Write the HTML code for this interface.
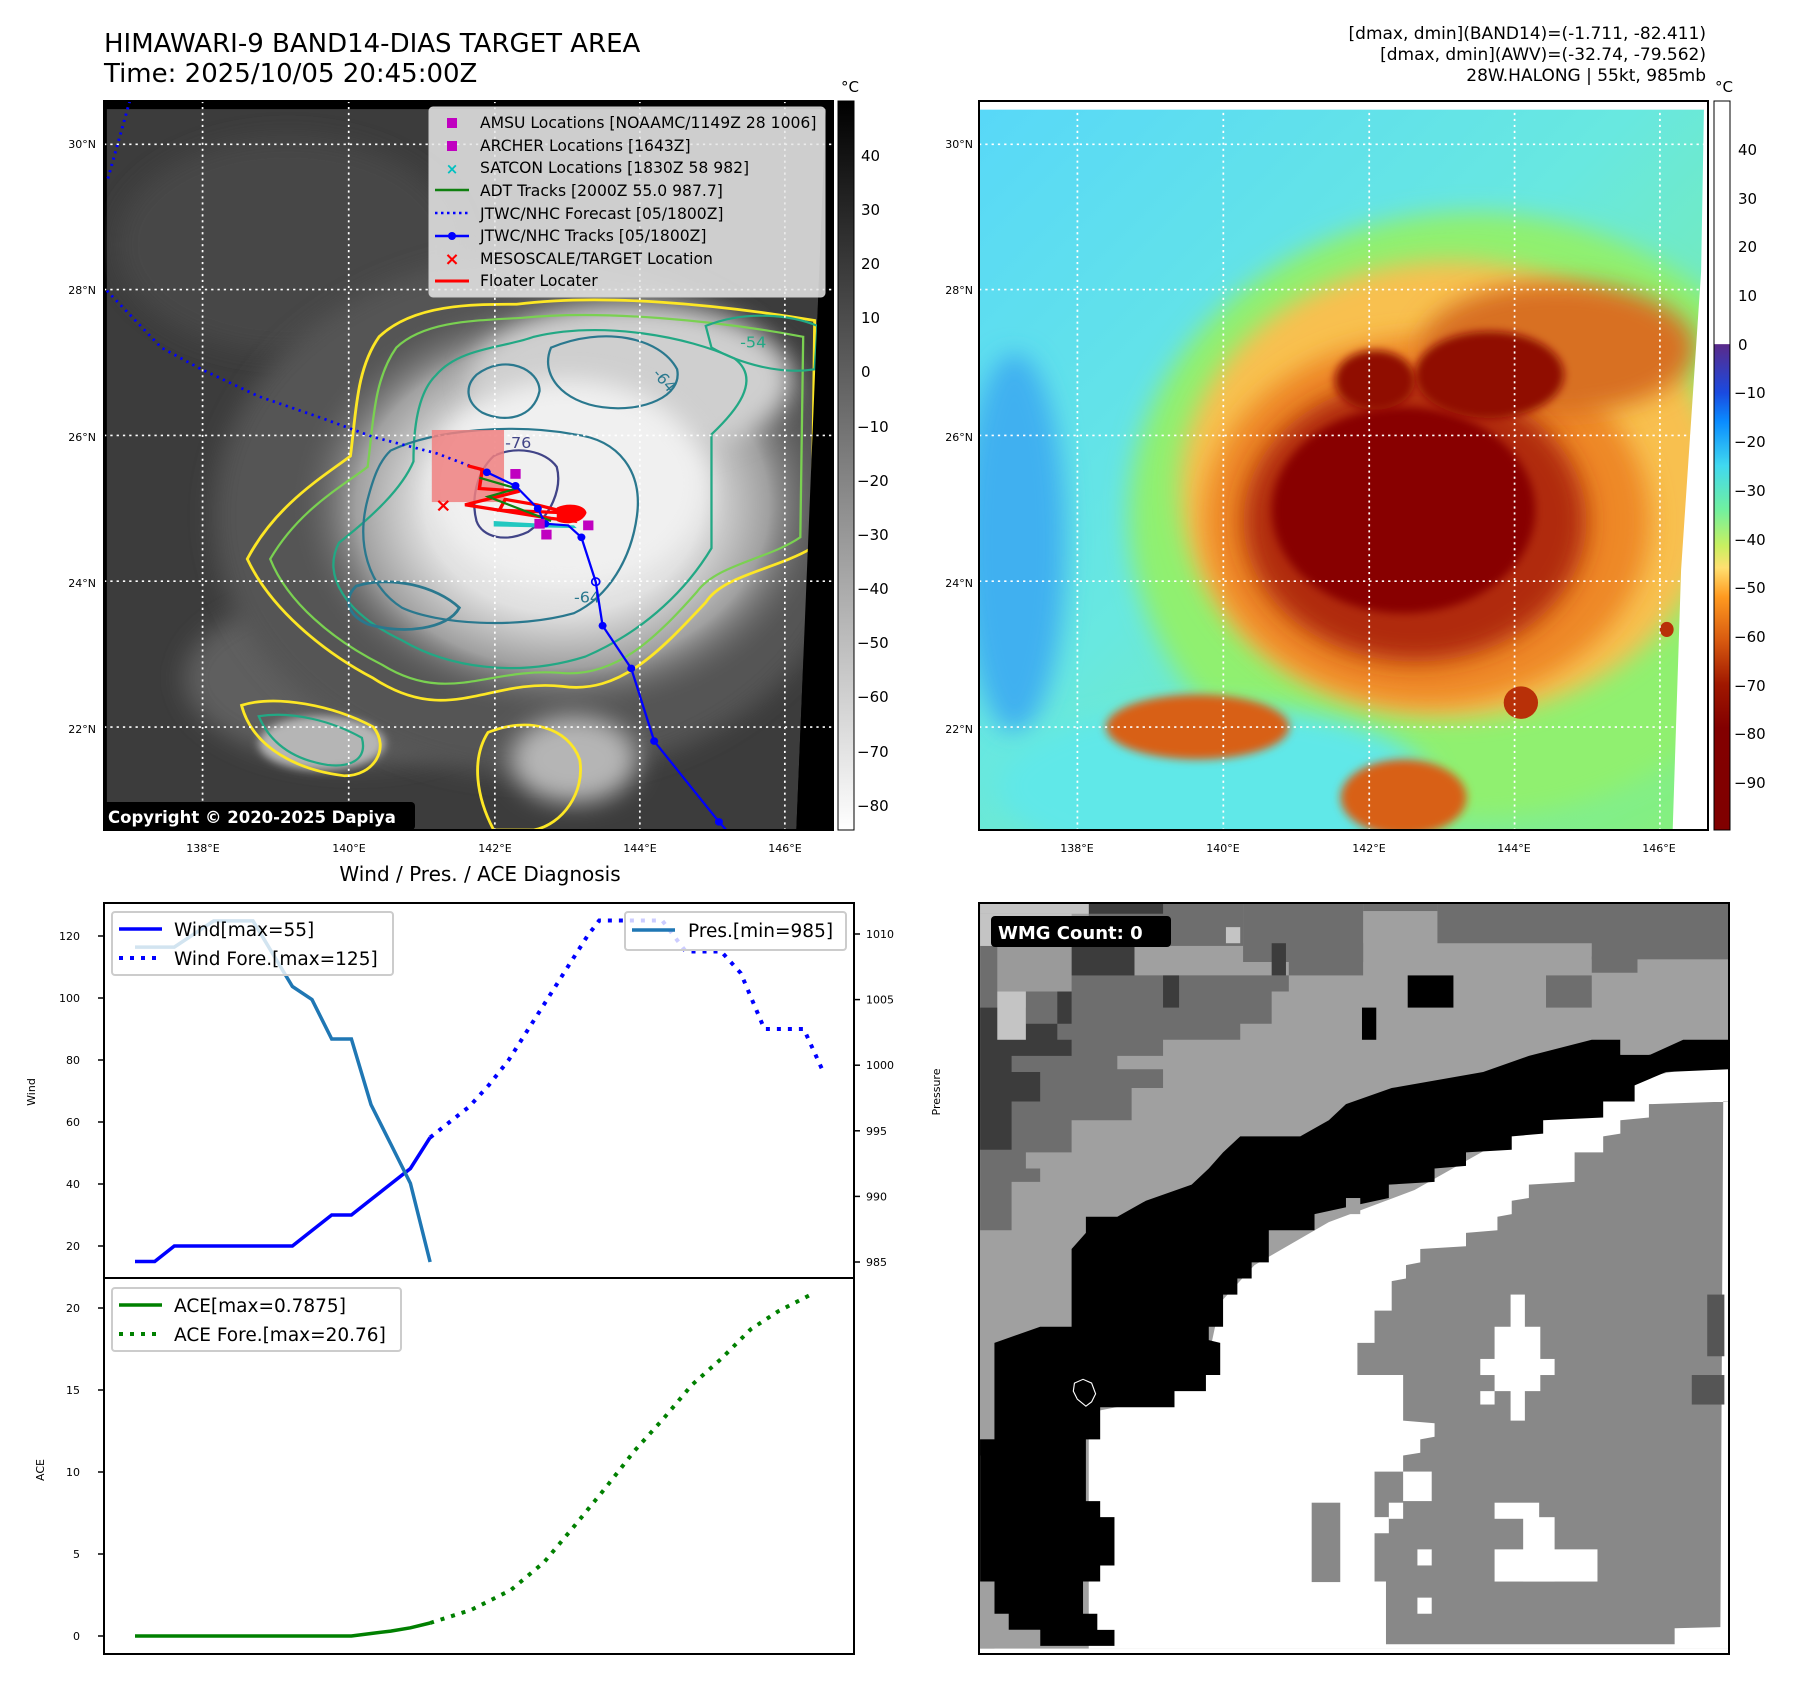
<!DOCTYPE html>
<html><head><meta charset="utf-8">
<style>
html,body{margin:0;padding:0;background:#fff;}
svg{display:block;font-family:"DejaVu Sans","Liberation Sans",sans-serif;}
</style></head>
<body>
<svg id="root" width="1797" height="1690" viewBox="0 0 1797 1690" xmlns="http://www.w3.org/2000/svg">
<defs>
  <filter id="blur8" x="-20%" y="-20%" width="140%" height="140%"><feGaussianBlur stdDeviation="8"/></filter>
  <filter id="blur20" x="-30%" y="-30%" width="160%" height="160%"><feGaussianBlur stdDeviation="22"/></filter>
  <radialGradient id="stormGray" cx="0.5" cy="0.5" r="0.5">
    <stop offset="0" stop-color="#f4f4f4"/><stop offset="0.5" stop-color="#e0e0e0"/>
    <stop offset="0.75" stop-color="#a0a0a0"/><stop offset="1" stop-color="#505050" stop-opacity="0"/>
  </radialGradient>
  <linearGradient id="cbGray" x1="0" y1="0" x2="0" y2="1">
    <stop offset="0" stop-color="#000"/><stop offset="1" stop-color="#fff"/>
  </linearGradient>
  <linearGradient id="cbColor" x1="0" y1="0" x2="0" y2="1">
    <stop offset="0" stop-color="#fff"/><stop offset="0.333" stop-color="#fff"/>
    <stop offset="0.334" stop-color="#5a2a8a"/><stop offset="0.40" stop-color="#1a4ae0"/>
    <stop offset="0.44" stop-color="#0a8cff"/><stop offset="0.50" stop-color="#40d8f0"/>
    <stop offset="0.56" stop-color="#70f0a0"/><stop offset="0.61" stop-color="#c8f060"/>
    <stop offset="0.64" stop-color="#ffe070"/><stop offset="0.68" stop-color="#ff9a20"/>
    <stop offset="0.74" stop-color="#d85a10"/><stop offset="0.80" stop-color="#a01800"/>
    <stop offset="0.86" stop-color="#820000"/><stop offset="1" stop-color="#800000"/>
  </linearGradient>
  <linearGradient id="awvBg" x1="0" y1="0" x2="1" y2="1">
    <stop offset="0" stop-color="#58d8f8"/><stop offset="0.45" stop-color="#68e8e0"/><stop offset="1" stop-color="#86f07a"/>
  </linearGradient>
</defs>

<!-- Titles -->
<text x="104" y="52" font-size="26" fill="#000">HIMAWARI-9 BAND14-DIAS TARGET AREA</text>
<text x="104" y="82" font-size="26" fill="#000">Time: 2025/10/05 20:45:00Z</text>
<g font-size="17" text-anchor="end" fill="#000">
  <text x="1706" y="39">[dmax, dmin](BAND14)=(-1.711, -82.411)</text>
  <text x="1706" y="60">[dmax, dmin](AWV)=(-32.74, -79.562)</text>
  <text x="1706" y="81">28W.HALONG | 55kt, 985mb</text>
</g>

<!-- ============ TOP LEFT MAP ============ -->
<g>
  <clipPath id="clipL"><rect x="104" y="101" width="729" height="729"/></clipPath>
  <rect x="104" y="101" width="729" height="729" fill="#000"/>
  <g clip-path="url(#clipL)">
    <g transform="translate(104,101) scale(0.5731,0.542) translate(-180,-185)">
      <polygon points="185,200 1440,200 1388,1530 185,1530" fill="#3c3c3c"/>
      <ellipse cx="500" cy="450" rx="300" ry="200" fill="#464646" filter="url(#blur20)"/>
      <ellipse cx="620" cy="1250" rx="300" ry="160" fill="#5e5e5e" filter="url(#blur20)"/>
      <ellipse cx="930" cy="950" rx="560" ry="480" fill="#555" filter="url(#blur20)"/>
      <ellipse cx="980" cy="930" rx="480" ry="400" fill="url(#stormGray)"/>
      <ellipse cx="1100" cy="700" rx="280" ry="140" fill="#cfcfcf" filter="url(#blur20)"/>
      <ellipse cx="990" cy="890" rx="240" ry="190" fill="#f0f0f0" filter="url(#blur20)"/>
      <ellipse cx="1000" cy="1400" rx="110" ry="80" fill="#b5b5b5" filter="url(#blur20)"/>
      <ellipse cx="560" cy="1370" rx="110" ry="50" fill="#b5b5b5" filter="url(#blur8)"/>
      <!-- contours -->
      <path d="M660,620 C720,560 820,560 900,560 C1050,540 1250,560 1420,590 L1415,1010 C1350,1050 1260,1060 1230,1110 C1150,1200 1080,1280 980,1265 C850,1250 780,1340 650,1250 C560,1200 470,1120 430,1030 C480,930 560,880 610,840 C620,760 620,680 660,620 Z" fill="none" stroke="#fde725" stroke-width="5"/>
      <path d="M690,640 C740,590 830,590 910,585 C1050,570 1250,590 1400,620 L1395,990 C1340,1030 1250,1040 1215,1090 C1140,1180 1070,1250 975,1240 C850,1230 780,1300 665,1225 C580,1180 500,1110 470,1030 C520,940 590,900 640,860 C650,780 650,700 690,640 Z" fill="none" stroke="#7ad151" stroke-width="4"/>
      <path d="M760,690 C800,640 880,640 930,620 C1050,590 1200,620 1280,660 C1330,700 1280,760 1240,800 L1240,1010 C1200,1080 1130,1160 1020,1210 C900,1250 780,1230 700,1180 C600,1130 560,1060 590,1000 C650,950 700,900 720,850 C720,780 730,720 760,690 Z" fill="none" stroke="#22a884" stroke-width="4"/>
      <path d="M830,690 C880,650 940,680 940,720 C930,770 880,780 840,760 C810,740 810,710 830,690 Z" fill="none" stroke="#2a788e" stroke-width="4"/>
      <path d="M960,640 C1050,600 1150,620 1180,680 C1190,730 1120,760 1050,750 C980,740 940,690 960,640 Z" fill="none" stroke="#2a788e" stroke-width="4"/>
      <path d="M680,830 C760,790 900,780 1000,800 C1080,810 1120,870 1110,950 C1100,1030 1060,1100 1000,1130 C900,1160 760,1150 700,1120 C640,1080 620,1000 640,920 C650,880 660,850 680,830 Z" fill="none" stroke="#2a788e" stroke-width="4"/>
      <path d="M620,1080 C680,1060 760,1080 800,1120 C780,1160 700,1170 640,1150 C600,1130 600,1100 620,1080 Z" fill="none" stroke="#2a788e" stroke-width="5"/>
      <path d="M860,840 C900,820 950,830 970,860 C980,900 960,950 920,980 C880,1000 840,990 830,960 C820,920 830,870 860,840 Z" fill="none" stroke="#414487" stroke-width="4"/>
      <path d="M420,1300 C480,1280 580,1300 650,1340 C680,1380 650,1430 600,1430 C520,1420 440,1380 420,1300 Z" fill="none" stroke="#fde725" stroke-width="5"/>
      <path d="M450,1320 C510,1310 580,1330 630,1360 C640,1400 610,1415 570,1410 C510,1400 470,1370 450,1320 Z" fill="none" stroke="#22a884" stroke-width="4"/>
      <path d="M850,1350 C920,1320 990,1340 1010,1400 C1020,1460 980,1520 930,1530 L860,1530 C830,1470 820,1400 850,1350 Z" fill="none" stroke="#fde725" stroke-width="5"/>
      <path d="M1230,600 C1300,570 1380,580 1425,600 L1420,680 C1360,690 1290,670 1240,640 Z" fill="none" stroke="#22a884" stroke-width="4"/>
      <text x="1140" y="700" font-size="28" fill="#2a788e" transform="rotate(50 1150 690)">-64</text>
      <text x="1000" y="1110" font-size="28" fill="#2a788e">-64</text>
      <text x="880" y="825" font-size="28" fill="#414487">-76</text>
      <text x="1290" y="640" font-size="28" fill="#22a884">-54</text>
      <polygon points="1440,190 1460,190 1460,1540 1388,1540 1388,1530" fill="#000"/>
      <g stroke="#fff" stroke-width="3" stroke-dasharray="4,7">
        <line x1="180" y1="265" x2="1452" y2="265"/><line x1="180" y1="533" x2="1452" y2="533"/>
        <line x1="180" y1="802" x2="1452" y2="802"/><line x1="180" y1="1071" x2="1452" y2="1071"/>
        <line x1="180" y1="1340" x2="1452" y2="1340"/>
        <line x1="352" y1="185" x2="352" y2="1530"/><line x1="607" y1="185" x2="607" y2="1530"/>
        <line x1="862" y1="185" x2="862" y2="1530"/><line x1="1115" y1="185" x2="1115" y2="1530"/>
        <line x1="1368" y1="185" x2="1368" y2="1530"/>
      </g>
      <rect x="752" y="792" width="126" height="133" fill="#f08080" opacity="0.85"/>
      <polyline points="225,185 205,260 185,335" fill="none" stroke="#00f" stroke-width="5" stroke-dasharray="4,8"/>
      <polyline points="185,535 280,640 350,680 450,730 560,770 650,805 760,835 848,870" fill="none" stroke="#00f" stroke-width="5" stroke-dasharray="4,8"/>
      <polyline points="815,858 840,865 835,900 905,905 810,930 960,955 1000,960 990,945 870,940 880,920 935,930 1010,950" fill="none" stroke="#f00" stroke-width="6"/>
      <polyline points="835,880 900,900 850,915 960,960" fill="none" stroke="#108010" stroke-width="4"/>
      <path d="M970,935 C990,925 1020,930 1022,945 C1015,965 985,968 970,960 Z" fill="#f00"/>
      <path d="M860,960 L1000,968 L1005,973 L860,970 Z" fill="#22c8c0"/>
      <polyline points="848,870 898,895 937,937 950,965 990,968 1013,990 1038,1072 1050,1153 1100,1232 1140,1366 1253,1515 1270,1535" fill="none" stroke="#00f" stroke-width="4"/>
      <g fill="#00f">
        <circle cx="848" cy="870" r="7"/><circle cx="898" cy="895" r="7"/><circle cx="937" cy="937" r="7"/>
        <circle cx="950" cy="965" r="7"/><circle cx="1013" cy="990" r="7"/><circle cx="1038" cy="1072" r="7" fill="none" stroke="#00f" stroke-width="3"/>
        <circle cx="1050" cy="1153" r="7"/><circle cx="1100" cy="1232" r="7"/><circle cx="1140" cy="1366" r="7"/><circle cx="1253" cy="1515" r="7"/>
      </g>
      <g fill="#c000c0">
        <rect x="889" y="864" width="18" height="18"/><rect x="1016" y="959" width="18" height="18"/>
        <rect x="943" y="976" width="18" height="18"/><rect x="931" y="956" width="18" height="18"/>
      </g>
      <text x="772" y="942" font-size="34" font-weight="bold" fill="#f00" text-anchor="middle">×</text>
    </g>
    <g>
      <rect x="429" y="107" width="396" height="190" rx="4" fill="#e8e8e8" fill-opacity="0.85" stroke="#ccc"/>
      <g font-size="15.6" fill="#000">
        <rect x="447" y="118" width="10" height="10" fill="#c000c0"/><text x="480" y="128">AMSU Locations [NOAAMC/1149Z 28 1006]</text>
        <rect x="447" y="141" width="10" height="10" fill="#c000c0"/><text x="480" y="151">ARCHER Locations [1643Z]</text>
        <text x="452" y="174" fill="#00c0c0" font-weight="bold" text-anchor="middle" font-size="15">×</text><text x="480" y="173">SATCON Locations [1830Z 58 982]</text>
        <line x1="435" y1="190" x2="469" y2="190" stroke="#108010" stroke-width="2.5"/><text x="480" y="196">ADT Tracks [2000Z 55.0 987.7]</text>
        <line x1="435" y1="213" x2="469" y2="213" stroke="#00f" stroke-width="2.5" stroke-dasharray="2.5,3.5"/><text x="480" y="219">JTWC/NHC Forecast [05/1800Z]</text>
        <line x1="435" y1="236" x2="469" y2="236" stroke="#00f" stroke-width="2.5"/><circle cx="452" cy="236" r="4" fill="#00f"/><text x="480" y="241">JTWC/NHC Tracks [05/1800Z]</text>
        <text x="452" y="265" fill="#f00" font-weight="bold" text-anchor="middle" font-size="18">×</text><text x="480" y="264">MESOSCALE/TARGET Location</text>
        <line x1="435" y1="281" x2="469" y2="281" stroke="#f00" stroke-width="3"/><text x="480" y="286">Floater Locater</text>
      </g>
    </g>
  </g>
  <rect x="104" y="101" width="729" height="729" fill="none" stroke="#000" stroke-width="2"/>
  <g>
    <rect x="103" y="802" width="312" height="28" rx="4" fill="#000"/>
    <text x="108" y="823" font-size="16.5" font-weight="bold" fill="#fff">Copyright © 2020-2025 Dapiya</text>
  </g>
  <g font-size="11" fill="#000" text-anchor="end">
    <text x="96" y="148">30°N</text><text x="96" y="294">28°N</text><text x="96" y="441">26°N</text><text x="96" y="587">24°N</text><text x="96" y="733">22°N</text>
  </g>
  <g font-size="11" fill="#000" text-anchor="middle">
    <text x="203" y="852">138°E</text><text x="349" y="852">140°E</text><text x="495" y="852">142°E</text><text x="640" y="852">144°E</text><text x="785" y="852">146°E</text>
  </g>
</g>

<g>
  <rect x="838" y="101" width="16" height="729" fill="url(#cbGray)" stroke="#000" stroke-width="1"/>
  <text x="850" y="92" font-size="15" text-anchor="middle">°C</text>
  <g font-size="15" fill="#000">
    <text x="861" y="161">40</text><text x="861" y="215">30</text><text x="861" y="269">20</text><text x="861" y="323">10</text>
    <text x="861" y="377">0</text><text x="857" y="432">−10</text><text x="857" y="486">−20</text><text x="857" y="540">−30</text>
    <text x="857" y="594">−40</text><text x="857" y="648">−50</text><text x="857" y="702">−60</text><text x="857" y="757">−70</text><text x="857" y="811">−80</text>
  </g>
</g>

<!-- ============ TOP RIGHT MAP ============ -->
<g>
  <clipPath id="clipR"><rect x="979" y="101" width="729" height="729"/></clipPath>
  <rect x="979" y="101" width="729" height="729" fill="#fff"/>
  <g clip-path="url(#clipR)">
    <g transform="translate(979,101) scale(0.5722,0.542) translate(-138,-185)">
      <rect x="138" y="200" width="1274" height="1330" fill="url(#awvBg)"/>
      <ellipse cx="200" cy="1000" rx="90" ry="350" fill="#40b0f0" filter="url(#blur20)"/>
      <ellipse cx="1000" cy="950" rx="600" ry="560" fill="#90f070" filter="url(#blur20)"/>
      <ellipse cx="550" cy="1450" rx="380" ry="150" fill="#60e8e8" filter="url(#blur20)"/>
      <ellipse cx="960" cy="900" rx="470" ry="420" fill="#f8c050" filter="url(#blur20)"/>
      <ellipse cx="920" cy="960" rx="390" ry="340" fill="#ee8828" filter="url(#blur20)"/>
      <ellipse cx="1150" cy="640" rx="240" ry="120" fill="#d87020" filter="url(#blur20)"/>
      <ellipse cx="520" cy="1340" rx="160" ry="60" fill="#d86018" filter="url(#blur8)"/>
      <ellipse cx="880" cy="1470" rx="110" ry="70" fill="#d86018" filter="url(#blur8)"/>
      <ellipse cx="900" cy="960" rx="300" ry="260" fill="#b02c08" filter="url(#blur20)"/>
      <ellipse cx="880" cy="940" rx="230" ry="190" fill="#880400" filter="url(#blur8)"/>
      <ellipse cx="1030" cy="690" rx="130" ry="80" fill="#900800" filter="url(#blur8)"/>
      <ellipse cx="830" cy="700" rx="70" ry="55" fill="#900800" filter="url(#blur8)"/>
      <ellipse cx="1085" cy="1295" rx="30" ry="30" fill="#b83008"/>
      <ellipse cx="1340" cy="1160" rx="12" ry="14" fill="#b83008"/>
      <polygon points="1405,195 1420,195 1420,1540 1350,1540 1365,1050 1400,500" fill="#fff"/>
      <rect x="130" y="185" width="1290" height="16" fill="#fff"/>
      <g stroke="#fff" stroke-width="3" stroke-dasharray="4,7">
        <line x1="138" y1="265" x2="1412" y2="265"/><line x1="138" y1="533" x2="1412" y2="533"/>
        <line x1="138" y1="802" x2="1412" y2="802"/><line x1="138" y1="1071" x2="1412" y2="1071"/>
        <line x1="138" y1="1340" x2="1412" y2="1340"/>
        <line x1="310" y1="185" x2="310" y2="1530"/><line x1="565" y1="185" x2="565" y2="1530"/>
        <line x1="820" y1="185" x2="820" y2="1530"/><line x1="1074" y1="185" x2="1074" y2="1530"/>
        <line x1="1328" y1="185" x2="1328" y2="1530"/>
      </g>
    </g>
  </g>
  <rect x="979" y="101" width="729" height="729" fill="none" stroke="#000" stroke-width="2"/>
  <g font-size="11" fill="#000" text-anchor="end">
    <text x="973" y="148">30°N</text><text x="973" y="294">28°N</text><text x="973" y="441">26°N</text><text x="973" y="587">24°N</text><text x="973" y="733">22°N</text>
  </g>
  <g font-size="11" fill="#000" text-anchor="middle">
    <text x="1077" y="852">138°E</text><text x="1223" y="852">140°E</text><text x="1369" y="852">142°E</text><text x="1514" y="852">144°E</text><text x="1659" y="852">146°E</text>
  </g>
</g>
<g>
  <rect x="1714" y="101" width="16" height="729" fill="url(#cbColor)" stroke="#000" stroke-width="1"/>
  <text x="1724" y="92" font-size="15" text-anchor="middle">°C</text>
  <g font-size="15" fill="#000">
    <text x="1738" y="155">40</text><text x="1738" y="204">30</text><text x="1738" y="252">20</text><text x="1738" y="301">10</text>
    <text x="1738" y="350">0</text><text x="1734" y="398">−10</text><text x="1734" y="447">−20</text><text x="1734" y="496">−30</text>
    <text x="1734" y="545">−40</text><text x="1734" y="593">−50</text><text x="1734" y="642">−60</text><text x="1734" y="691">−70</text>
    <text x="1734" y="739">−80</text><text x="1734" y="788">−90</text>
  </g>
</g>

<!-- ============ BOTTOM RIGHT WMG ============ -->
<g>
  <clipPath id="clipW"><rect x="979" y="903" width="750" height="751"/></clipPath>
  <rect x="979" y="903" width="750" height="751" fill="#fff"/>
  <g clip-path="url(#clipW)">
    <g transform="translate(979,903) scale(0.5716,0.5364) translate(-138,-100)">
      <rect x="138" y="100" width="1312" height="1390" fill="#a0a0a0"/>
      <g fill="#6e6e6e">
        <rect x="330" y="100" width="270" height="80"/><rect x="600" y="100" width="210" height="110"/>
        <rect x="680" y="175" width="130" height="60"/><rect x="810" y="100" width="130" height="15"/>
        <rect x="940" y="100" width="510" height="75"/><rect x="1210" y="170" width="240" height="35"/>
        <rect x="1210" y="200" width="80" height="30"/><rect x="1130" y="235" width="80" height="60"/>
        <polygon points="140,180 410,180 410,235 680,235 680,265 650,265 650,325 595,325 595,355 460,355 460,385 380,385 380,410 460,410 460,445 405,445 405,505 300,505 300,565 220,565 220,595 245,595 245,620 195,620 195,710 140,710"/>
      </g>
      <g fill="#3c3c3c">
        <rect x="330" y="100" width="130" height="20"/><rect x="300" y="180" width="110" height="55"/>
        <rect x="650" y="175" width="25" height="60"/><rect x="460" y="235" width="28" height="60"/>
        <polygon points="140,295 220,295 220,325 300,325 300,265 275,265 275,355 300,355 300,385 195,385 195,415 245,415 245,470 140,470"/>
        <rect x="140" y="470" width="55" height="90"/>
      </g>
      <g fill="#c4c4c4">
        <rect x="140" y="100" width="190" height="20"/><rect x="140" y="120" width="160" height="60"/>
        <rect x="170" y="265" width="50" height="90"/><rect x="570" y="145" width="25" height="30"/>
      </g>
      <g fill="#9a9a9a"><rect x="170" y="180" width="130" height="85"/></g>
      <polygon fill="#fff" points="1450,395 1300,425 1200,470 1100,515 1000,575 900,635 750,695 620,775 560,845 540,945 450,1025 330,1050 330,1490 1450,1490"/>
      <polygon fill="#888" points="1450,470 1310,475 1310,500 1260,505 1260,530 1230,535 1230,565 1180,565 1180,620 1100,625 1100,650 1070,655 1070,680 1045,685 1045,710 990,715 990,740 910,745 910,770 885,775 885,800 860,805 860,860 830,860 830,920 800,920 800,980 880,980 880,1065 935,1070 935,1095 910,1100 910,1125 880,1130 880,1160 830,1160 830,1245 855,1245 855,1275 830,1275 830,1365 850,1365 850,1482 1355,1482 1355,1452 1435,1450 1440,470"/>
      <g fill="#fff">
        <rect x="1068" y="830" width="25" height="235"/><rect x="1040" y="890" width="80" height="120"/>
        <rect x="1015" y="950" width="130" height="30"/><rect x="1015" y="1010" width="25" height="25"/>
        <rect x="1040" y="1218" width="78" height="30"/><rect x="1090" y="1245" width="55" height="120"/>
        <rect x="1040" y="1305" width="180" height="60"/><rect x="880" y="1160" width="50" height="55"/>
        <rect x="905" y="1305" width="25" height="30"/><rect x="905" y="1395" width="25" height="30"/>
        <rect x="855" y="1218" width="25" height="30"/>
      </g>
      <g fill="#888"><rect x="720" y="1218" width="50" height="148"/></g>
      <g fill="#555"><rect x="1412" y="830" width="30" height="115"/><rect x="1385" y="980" width="57" height="55"/></g>
      <polygon fill="#000" points="165,920 245,890 300,890 300,745 325,715 325,685 380,685 430,655 510,625 540,595 565,565 595,535 700,535 750,505 780,475 860,445 1020,415 1100,385 1210,355 1260,355 1260,383 1312,383 1370,355 1450,355 1450,410 1340,415 1285,440 1285,470 1230,470 1230,500 1125,505 1125,530 1070,535 1070,560 990,565 990,590 935,595 935,620 855,625 855,650 725,680 725,710 645,710 645,770 615,770 615,800 590,800 590,830 565,830 565,890 540,890 540,915 560,920 560,980 535,980 535,1010 480,1010 480,1040 350,1040 350,1100 325,1100 325,1215 350,1215 350,1245 375,1245 375,1335 350,1335 350,1365 320,1365 320,1425 345,1425 345,1455 375,1455 375,1485 245,1485 245,1455 190,1455 190,1425 165,1425 165,1365 140,1365 140,1100 165,1100"/>
      <g fill="#000"><rect x="888" y="235" width="80" height="60"/><rect x="808" y="295" width="25" height="60"/><rect x="140" y="1100" width="25" height="30"/></g>
      <g fill="#a0a0a0"><rect x="780" y="650" width="25" height="30"/><rect x="1260" y="355" width="50" height="28"/><rect x="140" y="1365" width="25" height="125"/><rect x="165" y="1455" width="80" height="30"/></g>
      <path d="M305,995 L320,988 L335,995 L342,1015 L335,1030 L325,1038 L310,1025 L303,1010 Z" fill="none" stroke="#fff" stroke-width="2"/>
    </g>
  </g>
  <rect x="979" y="903" width="750" height="751" fill="none" stroke="#000" stroke-width="2"/>
  <rect x="991" y="916" width="180" height="31" rx="4" fill="#000"/>
  <text x="998" y="939" font-size="18" font-weight="bold" fill="#fff">WMG Count: 0</text>
</g>

<!-- ============ BOTTOM LEFT CHART ============ -->
<text x="480" y="881" font-size="20" text-anchor="middle">Wind / Pres. / ACE Diagnosis</text>
<g id="chart"></g>
</svg>

<script>
// ---- data ----
const obsIdx = [0,1,2,3,4,5,6,7,8,9,10,11,12,13,14,15];
const windObs = [15,15,20,20,20,20,20,20,20,25,30,30,35,40,45,55];
const presObs = [1009,1009,1009,1010,1011,1011,1011,1008.5,1006,1005,1002,1002,997,994,991,985];
const aceObs = [0,0,0,0,0,0,0,0,0,0,0,0,0.15,0.3,0.5,0.79];
const foreIdx = [15,16,17,18,19,20,21,22,23,23.6,26.8,28,29.8,30.8,32,34,35];
const windFore = [55,60,65,72,80,90,100,110,120,125,125,115,115,108,90,90,76];
const aceForeIdx = [15,17.1,19.1,20.8,22.4,23.9,25.4,26.9,28.3,29.8,31.3,32.7,34.5];
const aceFore = [0.79,1.6,2.8,4.5,6.8,9,11.3,13.3,15.3,16.9,18.7,19.8,20.9];
const windTicks = [20,40,60,80,100,120];
const presTicks = [985,990,995,1000,1005,1010];
const aceTicks = [0,5,10,15,20];

// ---- scales ----
const X0 = 104, X1 = 854, TOP = 903, MID = 1278, BOT = 1654;
const xS = i => 135 + i * 19.67;
const yWind = v => 936 + (120 - v) * (1246 - 936) / 100;
const yPres = v => 934 + (1010 - v) * (1262 - 934) / 25;
const yAce = v => 1636 - v * (1636 - 1308) / 20;

const NS = "http://www.w3.org/2000/svg";
const chart = document.getElementById('chart');
function mk(tag, attrs, parent) {
  const e = document.createElementNS(NS, tag);
  for (const k in attrs) e.setAttribute(k, attrs[k]);
  (parent || chart).appendChild(e);
  return e;
}
function pts(xs, ys, fy) { return xs.map((x, i) => xS(x).toFixed(1) + ',' + fy(ys[i]).toFixed(1)).join(' '); }

let f1 = mk('rect', {x: X0, y: TOP, width: X1 - X0, height: MID - TOP, fill: 'none', stroke: '#000', 'stroke-width': 2});


let f2 = mk('rect', {x: X0, y: MID, width: X1 - X0, height: BOT - MID, fill: 'none', stroke: '#000', 'stroke-width': 2});



windTicks.forEach(v => {
  const y = yWind(v);
  mk('line', {x1: X0 - 6, x2: X0, y1: y, y2: y, stroke: '#000', 'stroke-width': 1.5});
  const t = mk('text', {x: X0 - 24, y: y + 4, 'font-size': 11, 'text-anchor': 'end'});
  t.textContent = v;
  
  
});
presTicks.forEach(v => {
  const y = yPres(v);
  mk('line', {x1: X1, x2: X1 + 6, y1: y, y2: y, stroke: '#000', 'stroke-width': 1.5});
  const t = mk('text', {x: X1 + 12, y: y + 4, 'font-size': 11});
  t.textContent = v;
  
  
});
aceTicks.forEach(v => {
  const y = yAce(v);
  mk('line', {x1: X0 - 6, x2: X0, y1: y, y2: y, stroke: '#000', 'stroke-width': 1.5});
  const t = mk('text', {x: X0 - 24, y: y + 4, 'font-size': 11, 'text-anchor': 'end'});
  t.textContent = v;
  
  
});
let yl1 = mk('text', {x: 0, y: 0, 'font-size': 11, 'text-anchor': 'middle', transform: 'translate(35,1092) rotate(-90)'});
yl1.textContent = 'Wind';


let yl2 = mk('text', {x: 0, y: 0, 'font-size': 11, 'text-anchor': 'middle', transform: 'translate(940,1092) rotate(-90)'});
yl2.textContent = 'Pressure';


let yl3 = mk('text', {x: 0, y: 0, 'font-size': 11, 'text-anchor': 'middle', transform: 'translate(44,1470) rotate(-90)'});
yl3.textContent = 'ACE';



let wObs = mk('polyline', {points: pts(obsIdx, windObs, yWind), fill: 'none', stroke: '#0000ff', 'stroke-width': 3.5});


let wF = mk('polyline', {points: pts(foreIdx, windFore, yWind), fill: 'none', stroke: '#0000ff', 'stroke-width': 4, 'stroke-dasharray': '4,7'});


let pL = mk('polyline', {points: pts(obsIdx, presObs, yPres), fill: 'none', stroke: '#1f77b4', 'stroke-width': 3.5});


let aO = mk('polyline', {points: pts(obsIdx, aceObs, yAce), fill: 'none', stroke: '#008000', 'stroke-width': 3.5});


let aF = mk('polyline', {points: pts(aceForeIdx, aceFore, yAce), fill: 'none', stroke: '#008000', 'stroke-width': 4, 'stroke-dasharray': '4,7'});



function legendBox(x, y, w, h) {
  return mk('rect', {x: x, y: y, width: w, height: h, rx: 3, fill: '#fff', 'fill-opacity': 0.8, stroke: '#ccc', 'stroke-width': 2});
}
let lb1 = legendBox(112, 912, 281, 63);


mk('line', {x1: 119, x2: 162, y1: 929, y2: 929, stroke: '#0000ff', 'stroke-width': 3.5});
let t1 = mk('text', {x: 174, y: 936, 'font-size': 18.5}); t1.textContent = 'Wind[max=55]';


mk('line', {x1: 119, x2: 162, y1: 958, y2: 958, stroke: '#0000ff', 'stroke-width': 4, 'stroke-dasharray': '4,7'});
let t2 = mk('text', {x: 174, y: 965, 'font-size': 18.5}); t2.textContent = 'Wind Fore.[max=125]';


let lb2 = legendBox(625, 912, 221, 38);


mk('line', {x1: 632, x2: 675, y1: 930, y2: 930, stroke: '#1f77b4', 'stroke-width': 3.5});
let t3 = mk('text', {x: 688, y: 937, 'font-size': 18.5}); t3.textContent = 'Pres.[min=985]';


let lb3 = legendBox(112, 1288, 289, 63);


mk('line', {x1: 119, x2: 162, y1: 1305, y2: 1305, stroke: '#008000', 'stroke-width': 3.5});
let t4 = mk('text', {x: 174, y: 1312, 'font-size': 18.5}); t4.textContent = 'ACE[max=0.7875]';


mk('line', {x1: 119, x2: 162, y1: 1334, y2: 1334, stroke: '#008000', 'stroke-width': 4, 'stroke-dasharray': '4,7'});
let t5 = mk('text', {x: 174, y: 1341, 'font-size': 18.5}); t5.textContent = 'ACE Fore.[max=20.76]';


</script>
</body></html>
